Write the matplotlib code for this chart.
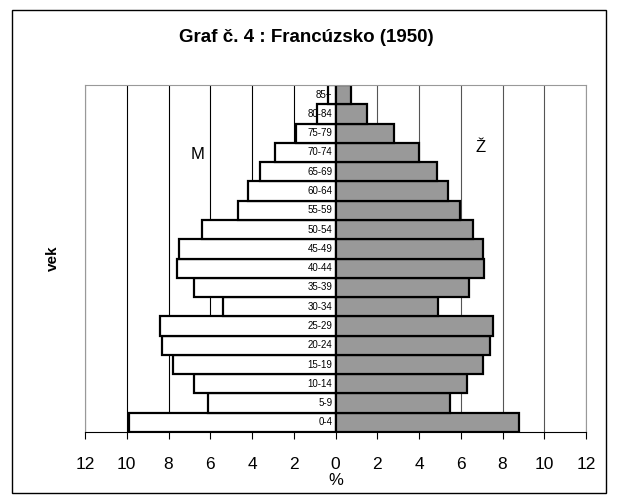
import matplotlib
matplotlib.use('Agg')
import matplotlib.pyplot as plt
from matplotlib.patches import Rectangle
import numpy as np

# vekove skupiny (zdola nahor)
vek = ["0-4", "5-9", "10-14", "15-19", "20-24", "25-29", "30-34", "35-39", "40-44",
       "45-49", "50-54", "55-59", "60-64", "65-69", "70-74", "75-79", "80-84", "85+"]
muzi = [9.9, 6.1, 6.8, 7.8, 8.3, 8.4, 5.4, 6.8, 7.6,
        7.5, 6.4, 4.65, 4.2, 3.6, 2.9, 1.9, 0.9, 0.35]
zeny = [8.8, 5.5, 6.3, 7.05, 7.4, 7.55, 4.9, 6.4, 7.1,
        7.05, 6.6, 5.95, 5.4, 4.85, 4.0, 2.8, 1.5, 0.75]
ticky = [-12, -10, -8, -6, -4, -2, 0, 2, 4, 6, 8, 10, 12]

plt.rcParams['font.family'] = ['Liberation Sans', 'DejaVu Sans']

fig = plt.figure(figsize=(6.18, 4.97), dpi=100)
W, H = 618, 497
ax = fig.add_axes([85 / W, 1 - 432 / H, (586 - 85) / W, (432 - 85) / H])

# ramcek okolo grafu
fig.patches.append(Rectangle((12 / W, 1 - 493 / H), (606 - 12) / W, (493 - 10) / H,
                             transform=fig.transFigure, fill=False, edgecolor='black', linewidth=1))

y = np.arange(len(vek))
for x in ticky:
    if x != 0:
        ax.axvline(x, color='#000000' if x < 0 else '#555555', linewidth=0.8, zorder=0)

ax.barh(y, [-m for m in muzi], height=1.0, color='white', edgecolor='black', linewidth=1.6, zorder=2)
ax.barh(y, zeny, height=1.0, color='#999999', edgecolor='black', linewidth=1.6, zorder=2)

for i, lab in enumerate(vek):
    ax.text(-0.15, i, lab, ha='right', va='center', fontsize=7, zorder=3)

ax.text(-6.6, 13.9, "M", fontsize=12, ha='center', va='center')
ax.text(6.95, 14.25, "Ž", fontsize=12, ha='center', va='center')

ax.set_xlim(-12, 12)
ax.set_ylim(-0.5, len(vek) - 0.5)
ax.set_xticks(ticky)
ax.set_xticklabels([str(abs(t)) for t in ticky], fontsize=12.5)
ax.tick_params(axis='x', length=5, width=0.8, pad=13, direction='out')
ax.set_yticks([])
for s in ['top', 'right', 'left']:
    ax.spines[s].set_color('#999999')
ax.spines['bottom'].set_color('black')

ax.set_xlabel("%", fontsize=12, labelpad=1)
ax.set_ylabel("vek", fontsize=11, fontweight='bold', labelpad=18)
fig.text(306 / W, 1 - 38 / H, "Graf č. 4 : Francúzsko (1950)", ha='center', va='center',
         fontsize=13.5, fontweight='bold')

plt.savefig("out.png", dpi=100, facecolor='white')
plt.close()
